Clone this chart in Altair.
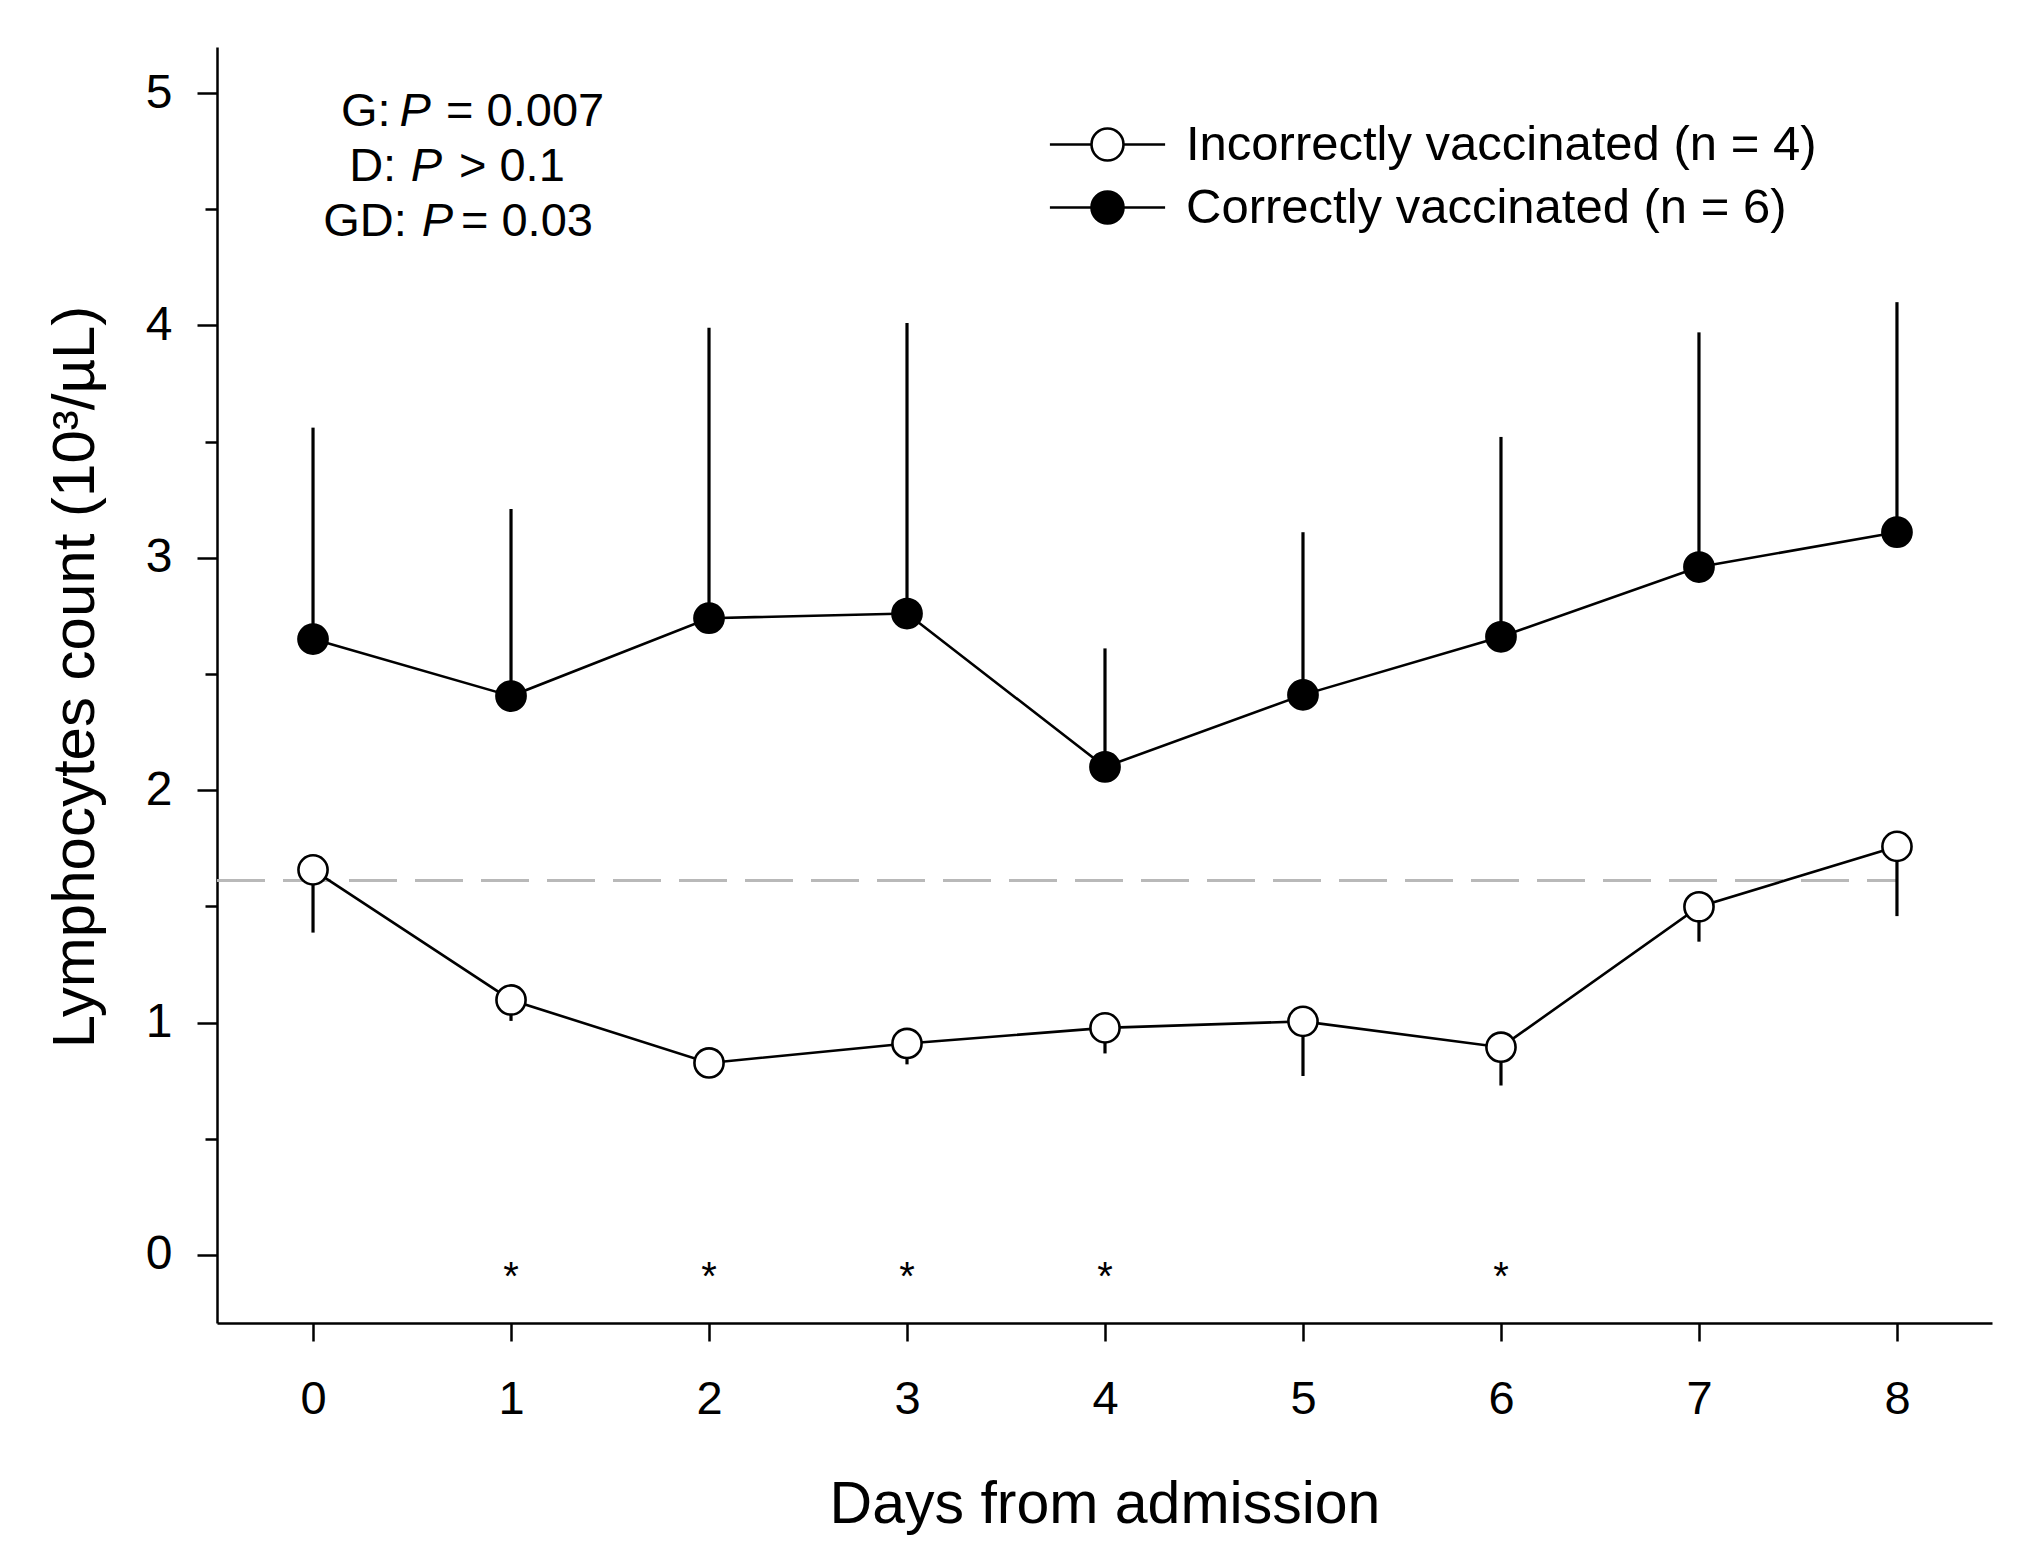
import altair as alt
import pandas as pd

# ---------------- data ----------------
days = [0, 1, 2, 3, 4, 5, 6, 7, 8]
correct_mean = [2.65, 2.405, 2.74, 2.76, 2.10, 2.41, 2.66, 2.96, 3.11]
correct_sd = [0.91, 0.805, 1.25, 1.25, 0.51, 0.70, 0.86, 1.01, 0.99]
incorrect_mean = [1.657, 1.097, 0.826, 0.91, 0.977, 1.005, 0.894, 1.498, 1.758]
incorrect_sd = [0.27, 0.09, 0.03, 0.09, 0.11, 0.235, 0.165, 0.15, 0.30]
signif_days = [1, 2, 3, 4, 6]
reference_level = 1.61
group_labels = ["Incorrectly vaccinated (n = 4)", "Correctly vaccinated (n = 6)"]
group_fills = ["white", "black"]
stat_terms = ["G:", "D:", "GD:"]
stat_ops = ["= 0.007", "> 0.1", "= 0.03"]

FONT = "Liberation Sans, Arial, Helvetica, sans-serif"

rows = []
for d, m, s in zip(days, incorrect_mean, incorrect_sd):
    rows.append({"day": d, "mean": m, "end": m - s, "group": group_labels[0]})
for d, m, s in zip(days, correct_mean, correct_sd):
    rows.append({"day": d, "mean": m, "end": m + s, "group": group_labels[1]})
df = pd.DataFrame(rows)

sig_df = pd.DataFrame({"day": signif_days, "mark": ["*"] * len(signif_days)})

# annotation anchor positions (data units)
term_x = [0.392, 0.420, 0.474]
p_x = [0.437, 0.493, 0.549]
op_x = [0.672, 0.737, 0.747]
line_y = [4.858, 4.623, 4.385]
stat_df = pd.DataFrame({
    "term": stat_terms, "op": stat_ops, "p": ["P"] * 3,
    "tx": term_x, "px": p_x, "ox": op_x, "y": line_y,
})

x_scale = alt.Scale(domain=[-0.485, 8.48], nice=False, zero=False)
y_scale = alt.Scale(domain=[-0.293, 5.198], nice=False, zero=False)

x_axis = alt.Axis(
    values=days, format="d", title="Days from admission",
    titleFontSize=59, titleFontWeight="normal", titleY=199, titleBaseline="alphabetic",
    labelFontSize=47, labelBaseline="alphabetic", labelPadding=72,
    tickSize=18, tickWidth=2.5, domainWidth=2.5, grid=False,
    domainColor="black", tickColor="black", labelColor="black", titleColor="black",
    labelFont=FONT, titleFont=FONT,
)
y_axis = alt.Axis(
    values=[v / 2 for v in range(0, 11)],
    labelExpr="datum.value % 1 === 0 ? format(datum.value, 'd') : ''",
    title="Lymphocytes count (10³/µL)",
    titleFontSize=60, titleFontWeight="normal", titleAngle=-90,
    titleX=-124, titleY=629.5, titleAlign="center", titleBaseline="alphabetic",
    labelFontSize=48, labelPadding=25,
    tickSize={"condition": {"test": "datum.value % 1 === 0", "value": 20}, "value": 12},
    tickWidth=2.5, domainWidth=2.5, grid=False,
    domainColor="black", tickColor="black", labelColor="black", titleColor="black",
    labelFont=FONT, titleFont=FONT,
)

base = alt.Chart(df)

ref = alt.Chart(df).mark_rule(color="#b9b9b9", strokeWidth=2, strokeDash=[48, 18]).encode(
    x=alt.datum(-0.485, scale=x_scale),
    x2=alt.datum(8),
    y=alt.datum(reference_level, scale=y_scale),
)

lines = base.mark_line(color="black", strokeWidth=2.6).encode(
    x=alt.X("day:Q", scale=x_scale, axis=x_axis),
    y=alt.Y("mean:Q", scale=y_scale, axis=y_axis),
    detail="group:N",
)

errs = base.mark_rule(color="black", strokeWidth=3.2).encode(
    x="day:Q", y="mean:Q", y2="end:Q",
)

legend_path = "M-3.6,0H-1M1,0H3.6M1,0A1,1 0 1,1 -1,0A1,1 0 1,1 1,0Z"

points = base.mark_circle(size=850, stroke="black", strokeWidth=2.6, opacity=1).encode(
    x="day:Q", y="mean:Q",
    fill=alt.Fill(
        "group:N",
        scale=alt.Scale(domain=group_labels, range=group_fills),
        legend=alt.Legend(
            title=None, orient="none", legendX=866, legendY=73,
            symbolType=legend_path, symbolSize=1024, symbolStrokeWidth=2.6,
            symbolStrokeColor="black", symbolOpacity=1,
            labelFontSize=49, labelFont=FONT, labelColor="black",
            labelOffset=54, labelLimit=0, rowPadding=13,
        ),
    ),
)

stars = alt.Chart(sig_df).mark_text(fontSize=40, baseline="alphabetic", dy=21, font=FONT, color="black").encode(
    x="day:Q", y=alt.datum(-0.06), text="mark:N",
)

terms = alt.Chart(stat_df).mark_text(fontSize=47, align="right", baseline="alphabetic", font=FONT, color="black").encode(
    x="tx:Q", y="y:Q", text="term:N",
)
ps = alt.Chart(stat_df).mark_text(fontSize=47, align="left", baseline="alphabetic", font=FONT, fontStyle="italic", color="black").encode(
    x="px:Q", y="y:Q", text="p:N",
)
ops = alt.Chart(stat_df).mark_text(fontSize=47, align="left", baseline="alphabetic", font=FONT, color="black").encode(
    x="ox:Q", y="y:Q", text="op:N",
)

chart = alt.layer(ref, lines, errs, points, stars, terms, ps, ops).properties(
    width=1775, height=1276,
    background="white",
    autosize=alt.AutoSizeParams(type="none"),
    padding={"left": 209, "top": 39, "right": 30, "bottom": 237},
).configure_view(stroke="transparent", strokeWidth=0)

chart.save("out.html", embed_options={"renderer": "svg", "actions": False})
